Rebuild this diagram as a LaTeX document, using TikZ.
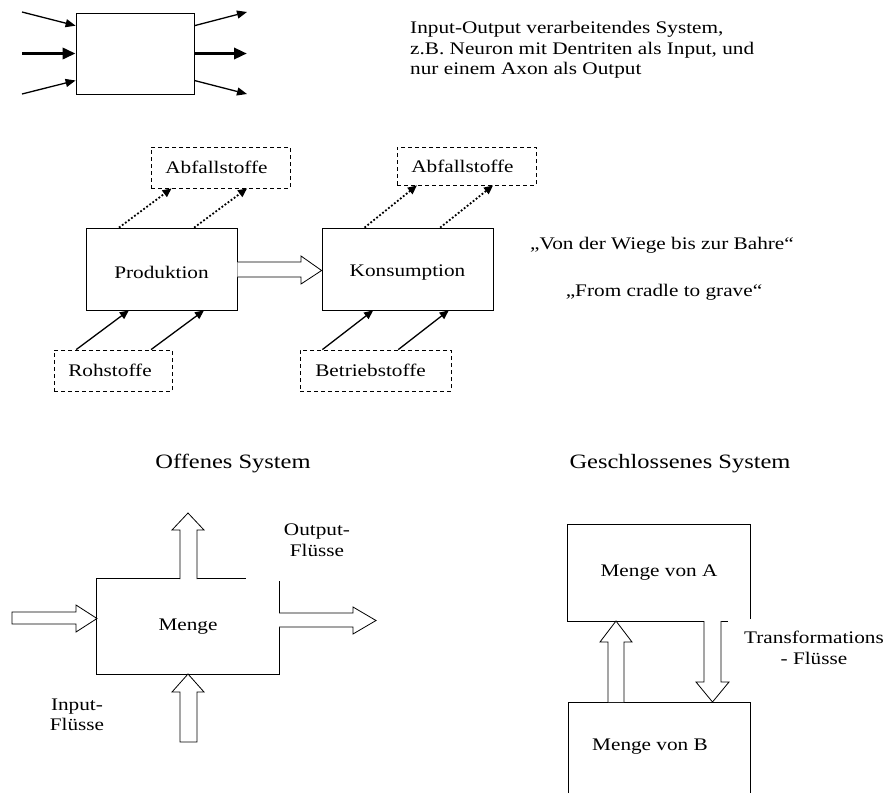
\documentclass[tikz,border=0pt]{standalone}
\usepackage{fontspec}
\setmainfont[FakeStretch=1.2]{Liberation Serif}
\usetikzlibrary{arrows.meta,calc}
\tikzset{
  box/.style={draw, line width=0.8pt, inner sep=0pt, font=\fontsize{17.7}{20.5}\selectfont},
  dbox/.style={box, dash pattern=on 4pt off 3pt},
  txt/.style={inner sep=0pt, font=\fontsize{17.7}{20.5}\selectfont},
  ttl/.style={inner sep=0pt, font=\fontsize{20.4}{24}\selectfont},
  thinarr/.style={line width=1.3pt, -{Triangle[length=10pt,width=8pt]}},
  thickarr/.style={line width=3.4pt, -{Triangle[length=13pt,width=11pt]}},
  dotarr/.style={line width=1.8pt, dotted, -{Triangle[length=9pt,width=8pt]}},
  midarr/.style={line width=1.3pt, -{Triangle[length=9pt,width=8pt]}},
  hollow/.style={draw, line width=0.8pt, fill=white, line join=miter},
  edge line/.style={line width=0.8pt},
}
\newcommand{\lowered}[2]{\raisebox{-#1}[\height][\depth]{#2}}
\begin{document}
\begin{tikzpicture}[x=1pt,y=-1pt]
\useasboundingbox (0,0) rectangle (884,793);

% ---------- top: input-output system ----------
\node[box, minimum width=118pt, minimum height=81pt] (sys) at (135,53.5) {};
\coordinate (in1) at (22,12);
\coordinate (in2) at (22,53.5);
\coordinate (in3) at (22,94);
\coordinate (out1) at (247,12);
\coordinate (out2) at (247,53.5);
\coordinate (out3) at (247,94);
\draw[thinarr] (in1) -- ($(sys.north west)!0.16!(sys.south west)$);
\draw[thickarr] (in2) -- (sys.west);
\draw[thinarr] (in3) -- ($(sys.north west)!0.83!(sys.south west)$);
\draw[thinarr] ($(sys.north east)!0.16!(sys.south east)$) -- (out1);
\draw[thickarr] (sys.east) -- (out2);
\draw[thinarr] ($(sys.north east)!0.83!(sys.south east)$) -- (out3);

\node[txt, anchor=base west] (d1) at (410,33) {Input-Output verarbeitendes System,};
\node[txt, anchor=base west] (d2) at (410,54) {z.B. Neuron mit Dentriten als Input, und};
\node[txt, anchor=base west] (d3) at (410,74.5) {nur einem Axon als Output};

% ---------- middle: production / consumption ----------
\node[dbox, minimum width=139pt, minimum height=41pt] (ab1) at (220.5,167.5) {\hspace*{-8pt}Abfallstoffe};
\node[dbox, minimum width=139pt, minimum height=38pt] (ab2) at (466.5,166) {\hspace*{-8pt}Abfallstoffe};
\node[box, minimum width=151pt, minimum height=82pt] (prod) at (161.5,269) {\lowered{3pt}{Produktion}};
\node[box, minimum width=171pt, minimum height=82pt] (kons) at (407.5,269) {\lowered{4pt}{Konsumption}};
\node[dbox, minimum width=118pt, minimum height=41pt] (roh) at (113,370.5) {\hspace*{-6pt}Rohstoffe};
\node[dbox, minimum width=151pt, minimum height=41pt] (betr) at (375.5,370.5) {\hspace*{-10pt}Betriebstoffe};

\draw[midarr] ($(roh.north west)!0.19!(roh.north east)$) -- ($(prod.south west)!0.285!(prod.south east)$);
\draw[midarr] ($(roh.north west)!0.82!(roh.north east)$) -- ($(prod.south west)!0.78!(prod.south east)$);
\draw[midarr] ($(betr.north west)!0.15!(betr.north east)$) -- ($(kons.south west)!0.30!(kons.south east)$);
\draw[midarr] ($(betr.north west)!0.65!(betr.north east)$) -- ($(kons.south west)!0.74!(kons.south east)$);

\draw[dotarr] ($(prod.north west)!0.22!(prod.north east)$) -- ($(ab1.south west)!0.15!(ab1.south east)$);
\draw[dotarr] ($(prod.north west)!0.715!(prod.north east)$) -- ($(ab1.south west)!0.69!(ab1.south east)$);
\draw[dotarr] ($(kons.north west)!0.25!(kons.north east)$) -- ($(ab2.south west)!0.145!(ab2.south east)$);
\draw[dotarr] ($(kons.north west)!0.69!(kons.north east)$) -- ($(ab2.south west)!0.69!(ab2.south east)$);

% hollow arrow Produktion -> Konsumption
\draw[hollow] ($(prod.east)+(0,-7)$) -- (301,262) -- (301,256) -- ($(kons.west)+(0,1.5)$) -- (301,284) -- (301,277) -- ($(prod.east)+(0,8)$);

\node[txt] (q1) at (662,245) {„Von der Wiege bis zur Bahre“};
\node[txt] (q2) at (664,292) {„From cradle to grave“};

% ---------- bottom titles ----------
\node[ttl] (t1) at (233,464) {Offenes System};
\node[ttl] (t2) at (680,464) {Geschlossenes System};

% ---------- open system ----------
\node[txt, minimum width=182pt, minimum height=95pt] (menge) at (188,626.5) {Menge};
\draw[edge line] ($(menge.north west)+(149,0)$) -- (menge.north west) -- (menge.south west) -- (menge.south east) -- ($(menge.north east)+(0,2)$);

% up (output) arrow at top
\draw[hollow] (180,579) -- (180,530) -- (172,530) -- (188,513) -- (204,530) -- (197,530) -- (197,579);
% up (input) arrow at bottom
\draw[hollow] (180,742) -- (180,692) -- (172,692) -- (188,674) -- (204,692) -- (197,692) -- (197,742) -- cycle;
% left input arrow
\draw[hollow] (12,612) -- (76,612) -- (76,605) -- (97,618.5) -- (76,632) -- (76,624) -- (12,624) -- cycle;
% right output arrow
\draw[hollow] (279,613) -- (353,613) -- (353,607) -- (376,620.5) -- (353,634) -- (353,627) -- (279,627);

\node[txt, align=center] (outl) at (317,540) {Output-\\Flüsse};
\node[txt, align=center] (inl) at (77,715) {Input-\\Flüsse};

% ---------- closed system ----------
\node[txt, minimum width=182pt, minimum height=96pt] (boxA) at (659,573) {Menge von A};
\draw[edge line] ($(boxA.south east)+(0,-2)$) -- (boxA.north east) -- (boxA.north west) -- (boxA.south west) -- ($(boxA.south west)+(160,0)$);

\node[txt] (boxB) at (650,747) {Menge von B};
\draw[edge line] (568,793) -- (568,702) -- (750,702) -- (750,793);

% up arrow B -> A
\draw[hollow] (608,702) -- (608,642) -- (600,642) -- (616,621) -- (632,642) -- (624,642) -- (624,702);
% down arrow A -> B
\draw[hollow] (704,621) -- (704,682) -- (696,682) -- (712.5,702) -- (729,682) -- (721,682) -- (721,621);

\node[txt, align=center] (trl) at (814,648) {Transformations\\- Flüsse};
\end{tikzpicture}
\end{document}
